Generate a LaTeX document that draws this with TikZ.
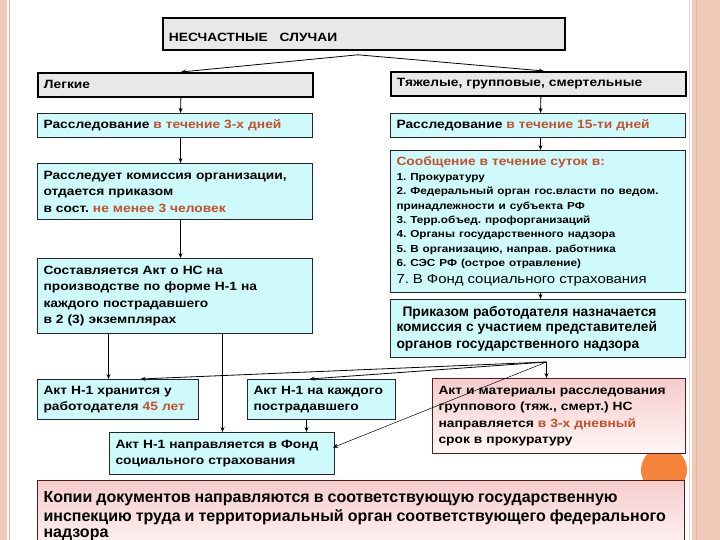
\documentclass[tikz,border=0pt]{standalone}
\usepackage{fontspec}
\setmainfont{Liberation Sans}[FakeStretch=1.15]
\newfontfamily\plainf{Liberation Sans}
\usetikzlibrary{arrows.meta,calc}
\definecolor{hl}{RGB}{196,80,42}
\definecolor{graybox}{RGB}{232,232,232}
\definecolor{cyanbox}{RGB}{206,250,252}
\definecolor{pinktop}{RGB}{246,204,204}
\definecolor{pinkbot}{RGB}{255,246,246}
\definecolor{strip}{RGB}{240,202,184}
\definecolor{stripline}{RGB}{222,180,160}
\definecolor{orangec}{RGB}{245,132,58}
\definecolor{redborder}{RGB}{80,30,30}
\newcommand\mkbox[7]{%
  \pgfmathsetmacro\bw{#5-#3}\pgfmathsetmacro\bh{#6-#4}\pgfmathsetmacro\tw{#5-#3-12}%
  \node[#2, minimum width=\bw pt, minimum height=\bh pt, text width=\tw pt] (#1) at (#3,#4) {#7};}
\begin{document}
\frenchspacing
\begin{tikzpicture}[x=1pt,y=-1pt,
  base/.style={rectangle, anchor=north west, inner xsep=6pt, inner ysep=0pt, align=left, font=\bfseries\fontsize{12}{16.5}\selectfont},
  graybx/.style={base, draw=black, line width=1.8pt, fill=graybox},
  cyanbx/.style={base, draw=black!85, line width=1pt, fill=cyanbox},
  pinkbx/.style={base, draw=redborder, line width=1pt, top color=pinktop, bottom color=pinkbot},
  conn/.style={draw=black, line width=0.8pt, -{Stealth[length=5pt,width=4pt]}},
  thinconn/.style={draw=black, line width=0.5pt, -{Stealth[length=5pt,width=4pt]}}]
\useasboundingbox (0,0) rectangle (720,540);
\clip (0,0) rectangle (720,540);
% side strips
\fill[strip] (0,0) rectangle (7,540);
\draw[stripline, line width=1pt] (9.5,0) -- (9.5,540);
\draw[stripline!60, line width=1.5pt] (689.5,0) -- (689.5,540);
\fill[strip] (692,0) rectangle (720,540);
\draw[stripline, line width=1.5pt] (696.5,0) -- (696.5,540);
% orange circle behind boxes
\fill[orangec] (664,470) circle (23);
% boxes
\mkbox{top}{graybx}{162}{17}{564}{49}{\rule{0pt}{16pt}НЕСЧАСТНЫЕ\ \ \ СЛУЧАИ}
\mkbox{legk}{graybx}{37}{72}{312}{96}{Легкие}
\mkbox{tyazh}{graybx}{390}{71}{685}{95}{Тяжелые, групповые, смертельные}
\mkbox{rthree}{cyanbx}{37}{113}{312}{137}{Расследование \textcolor{hl}{в течение 3-х дней}}
\mkbox{rfifteen}{cyanbx}{390}{113}{685}{137}{Расследование \textcolor{hl}{в течение 15-ти дней}}
\mkbox{rassl}{cyanbx}{37}{163}{312}{219}{Расследует комиссия организации,\\отдается приказом\\в сост. \textcolor{hl}{не менее 3 человек}}
\mkbox{soob}{cyanbx}{390}{150}{685}{292}{\fontsize{10.2}{14.4}\selectfont{\fontsize{12}{14}\selectfont\textcolor{hl}{Сообщение в течение суток в:}}\\
1. Прокуратуру\\
2. Федеральный орган гос.власти по ведом.\\
принадлежности и субъекта РФ\\
3. Терр.объед. профорганизаций\\
4. Органы государственного надзора\\
5. В организацию, направ. работника\\
6. СЭС РФ (острое отравление)\\
{\mdseries\fontsize{13}{14}\selectfont 7. В Фонд социального страхования}}
\mkbox{sost}{cyanbx}{37}{258}{312}{333}{Составляется Акт о НС на\\производстве по форме Н-1 на\\каждого пострадавшего\\в 2 (3) экземплярах}
\mkbox{prik}{cyanbx}{390}{299}{685}{357}{\plainf\fontsize{13.8}{15.5}\selectfont\hspace*{6pt}Приказом работодателя назначается\\комиссия с участием представителей\\органов государственного надзора}
\mkbox{hran}{cyanbx}{37}{379}{198}{419}{Акт Н-1 хранится у\\работодателя \textcolor{hl}{45 лет}}
\mkbox{nakazh}{cyanbx}{247}{379}{395}{419}{Акт Н-1 на каждого\\пострадавшего}
\mkbox{akt}{pinkbx}{432}{378}{685}{453}{Акт и материалы расследования\\группового (тяж., смерт.) НС\\направляется \textcolor{hl}{в 3-х дневный}\\срок в прокуратуру}
\mkbox{fond}{cyanbx}{109}{432}{334}{474}{Акт Н-1 направляется в Фонд\\социального страхования}
\mkbox{kopii}{pinkbx}{37}{480}{684}{552}{\plainf\fontsize{16}{18.5}\selectfont Копии документов направляются в соответствующую государственную\\инспекцию труда и территориальный орган соответствующего федерального\\надзора}
% connectors
\coordinate (apex) at ([xshift=-6pt,yshift=-4pt]top.south);
\draw[conn] (apex) -- ([xshift=5.5pt]legk.north);
\draw[conn] (apex) -- ([xshift=5.5pt]tyazh.north);
\draw[conn] ([xshift=5.5pt]legk.south) -- ([xshift=5.5pt]rthree.north);
\draw[conn] ([xshift=2.5pt]tyazh.south) -- ([xshift=2.5pt]rfifteen.north);
\draw[conn] ([xshift=5.5pt]rthree.south) -- ([xshift=5.5pt]rassl.north);
\draw[conn] ([xshift=5.5pt]rassl.south) -- ([xshift=5.5pt]sost.north);
\draw[conn] ([xshift=2.5pt]rfifteen.south) -- ([xshift=2.5pt]soob.north);
\draw[conn] ([xshift=2.5pt]soob.south) -- ([xshift=2.5pt]prik.north);
\draw[conn] ([xshift=-66.5pt]sost.south) -- ([xshift=-9.5pt]hran.north);
\draw[conn] ([xshift=47.5pt]sost.south) -- ([xshift=0.5pt]fond.north);
\draw[conn] ([xshift=-15pt]nakazh.south) -- ([xshift=84.5pt]fond.north);
\coordinate (orig) at ([xshift=8.5pt,yshift=-4pt]prik.south);
\draw[conn] (orig) -- ([xshift=-12.5pt]akt.north);
\draw[conn] (orig) -- ([xshift=22.5pt]hran.north);
\draw[conn] (orig) -- ([xshift=-12pt]nakazh.north);
\draw[thinconn] (orig) -- ([xshift=-2pt,yshift=6pt]fond.east);
\end{tikzpicture}
\end{document}
